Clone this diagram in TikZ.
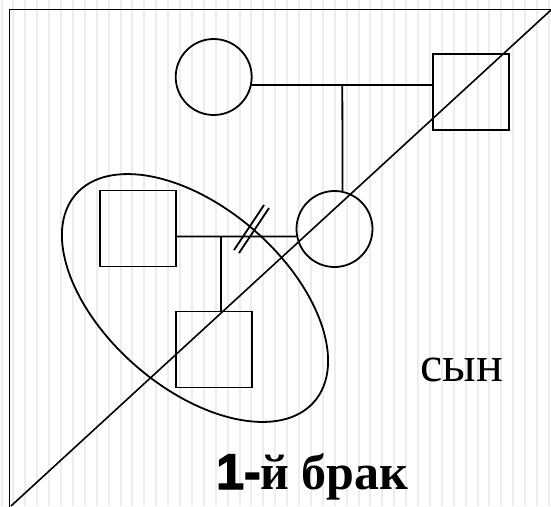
\documentclass[tikz,border=0pt]{standalone}
\usepackage{fontspec}
\usetikzlibrary{calc}
\setmainfont{Liberation Serif}
\newfontfamily\serifcyr{Liberation Serif}
\newfontfamily\onefont[FakeBold=2.5]{Liberation Sans}
\tikzset{
  stripe/.style={draw=gray!14, line width=2pt},
  lin/.style={draw=black, line width=1.8pt},
  circ/.style={lin, circle, minimum size=76pt, inner sep=0pt},
  sq/.style={lin, rectangle, minimum size=76pt, inner sep=0pt},
  lbl/.style={inner sep=0pt}
}
\begin{document}
\begin{tikzpicture}[x=1pt, y=-1pt]
\useasboundingbox (0,0) rectangle (551,506);
\fill[white] (0,0) rectangle (551,506);
\foreach \i in {0,...,46} \draw[stripe] ({1.5+11.9*\i},0) -- ++(0,506);
% frame
\coordinate (fTL) at (9.5,9.5);
\coordinate (fTR) at (552,9.5);
\coordinate (fBL) at (9.5,507);
\draw[line width=1.9pt] (fTR) -- (fTL) -- (fBL);
% nodes
\node[circ] (topc) at (213.7,77) {};
\node[sq] (topsq) at (471,92) {};
\node[circ] (midc) at (334.5,229) {};
\node[sq] (leftsq) at (138,228.5) {};
\node[sq] (botsq) at (214,349.5) {};
% connectors
\draw[lin] (topc.-12.2) -- (topc.-12.2 -| topsq.west);
\coordinate (m1) at (342.3,85);
\draw[lin] (m1) -- (midc.78.2);
\coordinate (m2) at (221.3,236.5);
\draw[lin] (leftsq.east |- m2) -- (midc.191.4);
\draw[lin] (m2) -- (m2 |- botsq.north);
% divorce mark
\coordinate (ds) at (251.5,229);
\draw[lin] ($(ds)+(-17.5,21)$) -- ($(ds)+(12.5,-24)$);
\draw[lin] ($(ds)+(-12.5,24)$) -- ($(ds)+(17.5,-21)$);
% ellipse
\coordinate (ell) at (195,298);
\draw[lin, rotate around={-41:(ell)}] (ell) ellipse [x radius=158pt, y radius=90pt];
% diagonal
\coordinate (dA) at (11,506);
\coordinate (dB) at (551,10);
\draw[lin, line width=1.6pt] (dA) -- (dB);
% texts
\node[lbl, anchor=base] (son) at (462,381.7) {\serifcyr\fontsize{50}{55}\selectfont сын};
\node[lbl, anchor=base west] (brak) at (216,489) {\fontsize{50}{54}\selectfont{\onefont\bfseries 1-}{\serifcyr\bfseries й брак}};
\end{tikzpicture}
\end{document}
